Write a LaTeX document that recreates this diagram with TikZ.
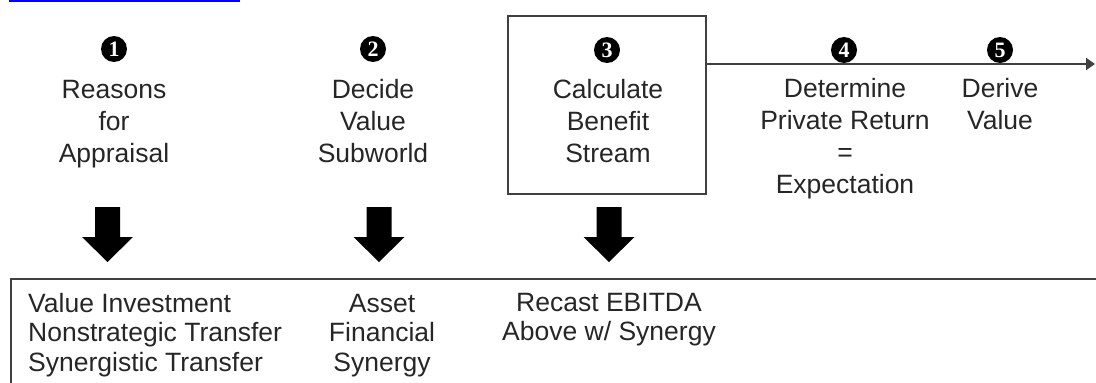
\documentclass[tikz,border=0pt]{standalone}
\usepackage{fontspec}
\setmainfont{Liberation Sans}
\newfontfamily\digitfont{Liberation Serif}
\usetikzlibrary{arrows.meta,calc}

\begin{document}
\begin{tikzpicture}[x=1pt,y=-1pt,
  % multi-line labels are placed by the baseline of their last line
  lbl/.style={font=\fontsize{26.5}{32}\selectfont, text=black!85, align=center,
    inner sep=0pt, anchor=base},
  lower/.style={font=\fontsize{26.5}{29.5}\selectfont, text=black!85,
    inner sep=0pt},
  numdigit/.style={text=white, inner sep=0pt,
    font=\fontsize{22}{22}\selectfont\digitfont\bfseries},
  frame/.style={draw=black!75, line width=2.2pt},
  flow/.style={draw=black!75, line width=2.5pt, -{Triangle[length=9pt,width=12pt]}},
  blockarr/.style={fill=black}
]
\useasboundingbox (0,0) rectangle (1096,383);

% link underline at the top edge
\fill[blue] (9,0) rectangle (240,2);

% step 3 frame
\node (box3) [frame, minimum width=198pt, minimum height=178pt, inner sep=0pt,
  anchor=north west] at (507,15) {};

% numbered markers: black discs with white digits
\foreach \k/\x/\y in {1/114/49, 2/373/49, 3/607/50, 4/844/50, 5/1000/50} {
  \fill[black] (\x,\y) circle (13);
  \node (n\k) [numdigit] at (\x,\y) {\k};
}

% step labels
\node (c1) [lbl] at (114,162) {Reasons\\for\\Appraisal};
\node (c2) [lbl] at (373,162) {Decide\\Value\\Subworld};
\node (c3) [lbl] at (608,162) {Calculate\\Benefit\\Stream};
\node (c4) [lbl] at (845,193) {Determine\\Private Return\\=\\Expectation};
\node (c5) [lbl] at (1000,129) {Derive\\Value};

% flow line leaving the frame
\coordinate (flowend) at (1095,64);
\draw[flow] (box3.east |- flowend) -- (flowend);

% lower open box
\node (bottom) [frame, minimum width=1130pt, minimum height=150pt, inner sep=0pt,
  anchor=north west] at (10,278) {};

% block arrows down into the lower box
\foreach \i/\x in {1/107.5, 2/379, 3/609} {
  \coordinate (a\i) at (\x,207);
  \coordinate (t\i) at ($(bottom.north -| a\i)+(0,-16)$);
  \fill[blockarr] (a\i) ++(-12.5,0) -- ++(25,0) -- ++(0,30) -- ++(13,0)
    -- (t\i) -- ($(t\i)+(-25.5,-25)$) -- ++(13,0) -- cycle;
}

% lower box contents
\node (b1) [lower, align=left, anchor=base west] at (28,371)
  {Value Investment\\Nonstrategic Transfer\\Synergistic Transfer};
\node (b2) [lower, align=center, anchor=base] at (382,371)
  {Asset\\Financial\\Synergy};
\node (b3) [lower, align=center, anchor=base] at (609,340.5)
  {Recast EBITDA\\Above w/ Synergy};
\end{tikzpicture}
\end{document}
